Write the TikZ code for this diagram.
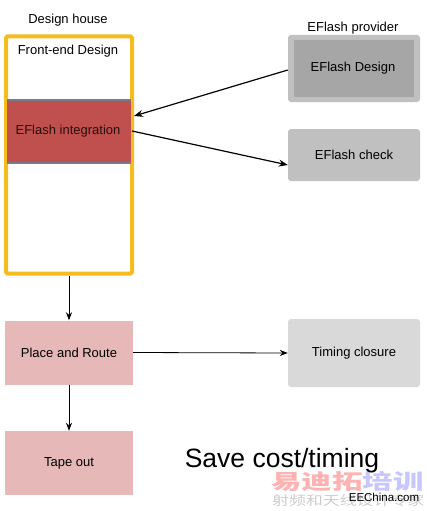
\documentclass[tikz,border=0pt]{standalone}
\usepackage{fontspec}
\usepackage{graphicx}
\setmainfont{Liberation Sans}
\newfontfamily\cjk{Noto Sans CJK SC}
\usetikzlibrary{arrows.meta}
\definecolor{frameyel}{HTML}{F4BC1F}
\definecolor{intred}{HTML}{C0504D}
\definecolor{intedge}{HTML}{7A7A8E}
\definecolor{pinkbox}{HTML}{E6B9B8}
\definecolor{gray1}{HTML}{C0C0C0}
\definecolor{gray2}{HTML}{A6A6A6}
\definecolor{gray3}{HTML}{D9D9D9}
\tikzset{
  lbl/.style={font=\fontsize{13}{15}\selectfont, text=black, inner sep=0pt},
  box/.style={inner sep=0pt, draw=none},
  rbox/.style={inner sep=0pt, draw=none, rounded corners=3pt},
  arr/.style={-{Stealth[length=9pt,width=7pt]}, line width=1.2pt, black},
  varr/.style={-{Stealth[length=8pt,width=6pt]}, line width=0.8pt, black}
}
\begin{document}
\begin{tikzpicture}[x=1pt,y=-1pt]
\useasboundingbox (0,0) rectangle (426,511);
% Design house frame
\node[lbl] (dh) at (68,20) {Design house};
\node[box, draw=frameyel, line width=4pt, rounded corners=1.5pt, minimum width=126pt, minimum height=237pt] (frame) at (69,155) {};
\node[lbl] (fed) at (68,51) {Front-end Design};
\fill[intred] (7,100) rectangle (131,163);
\draw[intedge, line width=1.5pt] (7,100) -- (131,100) (7,163) -- (131,163);
\node[box, minimum width=124pt, minimum height=63pt] (int) at (69,131.5) {};
\node[lbl, text={black!80!intred}] (intl) at (68,131) {EFlash integration};
% EFlash provider
\node[lbl] (prov) at (353,28) {EFlash provider};
\node[rbox, fill=gray1, minimum width=132pt, minimum height=67pt] (edo) at (354,68.5) {};
\node[box, fill=gray2, minimum width=120pt, minimum height=57pt] (edi) at (354,68.5) {};
\node[lbl] (edl) at (353,68) {EFlash Design};
\node[rbox, fill=gray1, minimum width=132pt, minimum height=52pt, lbl] (chk) at (354,155) {EFlash check};
% lower flow
\node[box, fill=pinkbox, minimum width=128pt, minimum height=64pt, lbl] (pr) at (69,352.5) {Place and Route};
\node[rbox, fill=gray3, minimum width=132pt, minimum height=68pt, lbl] (tc) at (354,353) {Timing closure};
\node[box, fill=pinkbox, minimum width=128pt, minimum height=64pt, lbl] (to) at (69,463) {Tape out};
% watermark (behind main text)
\node[font=\cjk\bfseries, text=red!30, inner sep=0pt, anchor=west] (wm1) at (271,482) {\scalebox{1.45}[1]{\fontsize{21}{23}\selectfont 易迪拓\textcolor{blue!22}{培训}}};
\node[font=\cjk, text=gray!40, inner sep=0pt, anchor=west] (wm2) at (272,501) {\scalebox{1.3}[1]{\fontsize{13}{15}\selectfont 射频和天线设计专家}};
\node[font=\fontsize{11.5}{13}\selectfont, inner sep=0pt] (wm3) at (384,497) {EEChina.com};
\node[font=\fontsize{26.5}{30}\selectfont, inner sep=0pt] (save) at (282,461) {Save cost/timing};
% arrows
\draw[arr] (edo.west) ++(0,1.5) coordinate (a1) (a1) -- (frame.east |- 0,116);
\draw[arr] (132,131) -- (chk.west |- 0,165);
\draw[varr] (frame.south) -- (pr.north);
\draw[varr] (pr.south) -- (to.north);
\draw[varr] (pr.east) -- (tc.west);
\end{tikzpicture}
\end{document}
